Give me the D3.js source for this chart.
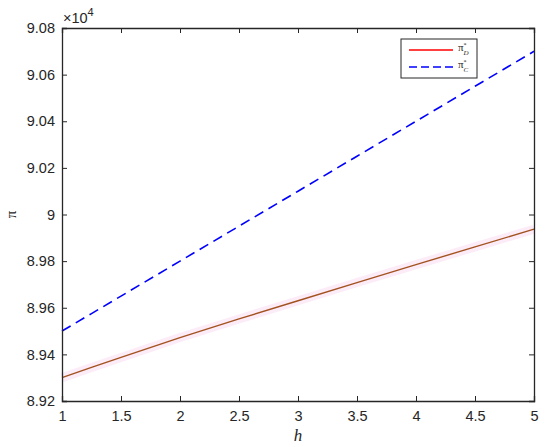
<!DOCTYPE html>
<html><head><meta charset="utf-8">
<script src="https://cdn.jsdelivr.net/npm/d3@7"></script>
<style>body{margin:0;background:#fff}svg{display:block}</style>
</head><body>
<script>
const hValues = [1, 1.25, 1.5, 2, 2.5, 3, 3.5, 4, 4.5, 5];
const piD = [89300, 89344, 89387, 89472, 89552, 89630, 89708, 89785, 89861, 89937];
const piC = [89500, 89575, 89650, 89800, 89950, 90100, 90250, 90400, 90550, 90700];
const xTicks = [1, 1.5, 2, 2.5, 3, 3.5, 4, 4.5, 5];
const yTicks = [8.92, 8.94, 8.96, 8.98, 9, 9.02, 9.04, 9.06, 9.08];
const yTickLabels = ["8.92","8.94","8.96","8.98","9","9.02","9.04","9.06","9.08"];

const W = 550, H = 447;
const m = {left: 62, right: 16, top: 28, bottom: 46};
const svg = d3.select("body").append("svg").attr("width", W).attr("height", H);
const x = d3.scaleLinear().domain([1, 5]).range([m.left, W - m.right]);
const y = d3.scaleLinear().domain([89200, 90800]).range([H - m.bottom, m.top]);
const font = "Liberation Sans, Arial, sans-serif";
const serif = "Liberation Serif, Times New Roman, serif";

const line = d3.line().x((d, i) => x(hValues[i])).y(d => y(d));

// faint halo under the pi_D line
svg.append("path").datum(piD).attr("d", line).attr("fill", "none")
  .attr("stroke", "#fcecf8").attr("stroke-width", 9);
svg.append("path").datum(piD).attr("d", line).attr("fill", "none")
  .attr("stroke", "#a3521f").attr("stroke-width", 1.4);
svg.append("path").datum(piC).attr("d", line).attr("fill", "none")
  .attr("stroke", "#0000ff").attr("stroke-width", 1.6).attr("stroke-dasharray", "10,6");

// axes
const tl = 5;
const xb = d3.axisBottom(x).tickValues(xTicks).tickFormat(d3.format("")).tickSize(-tl).tickPadding(10);
const yl = d3.axisLeft(y).tickValues(yTicks.map(v => v * 1e4)).tickFormat((d, i) => yTickLabels[i]).tickSize(-tl).tickPadding(7);
const gx = svg.append("g").attr("transform", `translate(0,${y(89200)})`).call(xb);
const gy = svg.append("g").attr("transform", `translate(${x(1)},0)`).call(yl);
const gxt = svg.append("g").attr("transform", `translate(0,${y(90800)})`).call(d3.axisTop(x).tickValues(xTicks).tickFormat("").tickSize(-tl));
const gyr = svg.append("g").attr("transform", `translate(${x(5)},0)`).call(d3.axisRight(y).tickValues(yTicks.map(v => v * 1e4)).tickFormat("").tickSize(-tl));
[gx, gy, gxt, gyr].forEach(g => {
  g.select(".domain").attr("stroke", "#262626").attr("stroke-width", 1.3);
  g.selectAll(".tick line").attr("stroke", "#262626").attr("stroke-width", 1);
  g.selectAll("text").attr("font-family", font).attr("font-size", 14.5).attr("fill", "#262626");
});

// exponent
const ex = svg.append("text").attr("x", x(1) + 1).attr("y", 23).attr("font-family", font).attr("font-size", 14.5).attr("fill", "#262626");
ex.append("tspan").text("×10");
ex.append("tspan").attr("dy", -7).attr("font-size", 11).text("4");

// axis labels
svg.append("text").attr("x", (x(1) + x(5)) / 2).attr("y", 441).attr("text-anchor", "middle")
  .attr("font-family", serif).attr("font-style", "italic").attr("font-size", 17).attr("fill", "#262626").text("h");
svg.append("text").attr("transform", `translate(16,${y(90000)}) rotate(-90)`).attr("text-anchor", "middle")
  .attr("font-family", serif).attr("font-size", 15).attr("fill", "#262626").text("π");

// legend
const lg = svg.append("g");
lg.append("rect").attr("x", 401).attr("y", 39).attr("width", 76).attr("height", 39).attr("fill", "#fff").attr("stroke", "#262626").attr("stroke-width", 1);
const items = [{c: "#ff0000", dash: null, sub: "D", yy: 49}, {c: "#0000ff", dash: "8,4", sub: "C", yy: 66}];
items.forEach(it => {
  lg.append("line").attr("x1", 409).attr("x2", 453).attr("y1", it.yy + 1).attr("y2", it.yy + 1)
    .attr("stroke", it.c).attr("stroke-width", 1.4).attr("stroke-dasharray", it.dash);
  const t = lg.append("text").attr("x", 458).attr("y", it.yy + 2).attr("font-family", serif).attr("font-size", 11).attr("fill", "#262626");
  t.append("tspan").text("π");
  t.append("tspan").attr("dx", 0).attr("dy", -4).attr("font-size", 6).text("*");
  t.append("tspan").attr("dx", -3).attr("dy", 8).attr("font-size", 7).attr("font-style", "italic").text(it.sub);
});
</script>
</body></html>
